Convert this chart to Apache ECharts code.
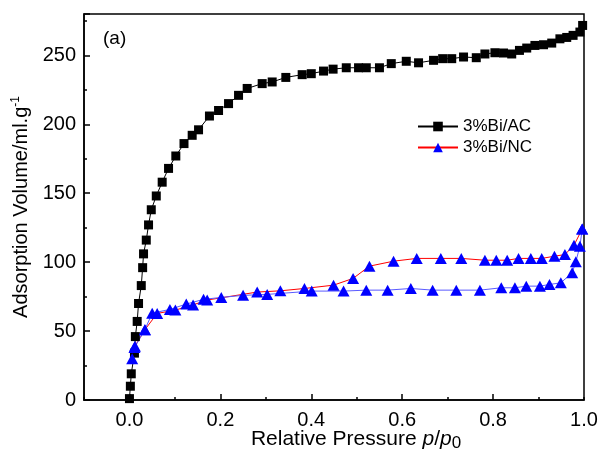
<!DOCTYPE html>
<html>
<head>
<meta charset="UTF-8">
<title>3%Bi isotherms</title>
<script src="https://cdn.jsdelivr.net/npm/echarts@6/dist/echarts.min.js"></script>
<style>
  html, body { margin: 0; padding: 0; background: #fff; }
  #main { width: 601px; height: 452px; }
</style>
</head>
<body>
<div id="main"></div>
<script>
// 3%Bi/AC isotherm
var acP = [0.000, 0.002, 0.004, 0.011, 0.013, 0.017, 0.020, 0.026, 0.029, 0.031, 0.037, 0.042, 0.048, 0.059, 0.072, 0.086,
  0.102, 0.120, 0.138, 0.152, 0.176, 0.196, 0.218, 0.240, 0.259, 0.292, 0.314, 0.344, 0.380, 0.400, 0.427, 0.448,
  0.477, 0.504, 0.521, 0.550, 0.576, 0.609, 0.636, 0.669, 0.689, 0.709, 0.735, 0.763, 0.782, 0.804, 0.823, 0.841,
  0.858, 0.874, 0.892, 0.911, 0.929, 0.947, 0.962, 0.976, 0.991, 0.997];
var acV = [1, 10, 19, 34, 46, 57, 70, 83, 96, 106, 116, 127, 138, 148, 158, 168,
  177, 186, 192, 196, 206, 210, 215, 221, 226, 229.5, 230.7, 234, 236, 236.7, 238.6, 240,
  241, 241, 241, 241, 244, 245.7, 244.6, 246.4, 247.6, 247.6, 248.8, 248.3, 251, 251.9, 251.7, 251,
  253.6, 255.3, 257.2, 257.7, 258.9, 262, 263, 264.5, 266.9, 271.7];

// 3%Bi/NC adsorption branch (blue line)
var ncAdsP = [0.006, 0.011, 0.034, 0.050, 0.089, 0.125, 0.163, 0.202, 0.250, 0.303, 0.401, 0.471, 0.521, 0.568, 0.619,
  0.667, 0.719, 0.771, 0.818, 0.848, 0.873, 0.903, 0.924, 0.949, 0.974, 0.982, 0.991, 0.996];
var ncAdsV = [30, 38, 51, 63, 65.7, 69.6, 73, 74.4, 75.9, 76.6, 79, 79, 79.7, 79.7, 80.9,
  79.7, 79.7, 79.7, 81.4, 81.4, 82.6, 82.6, 83.8, 85, 92.3, 100.2, 111.6, 124];

// 3%Bi/NC desorption branch (red line)
var ncDesP = [0.996, 0.978, 0.958, 0.935, 0.907, 0.883, 0.856, 0.831, 0.807, 0.782, 0.730, 0.685, 0.632, 0.581, 0.528,
  0.492, 0.449, 0.385, 0.332, 0.281, 0.171, 0.140, 0.101, 0.061, 0.034, 0.012];
var ncDesV = [124, 112.3, 105.5, 104.3, 102.7, 102.7, 102.7, 101.4, 101.4, 101.4, 102.7, 102.7, 102.7, 100.7, 97.1,
  88.2, 83.3, 80.9, 79.2, 78.3, 72.5, 69, 65.2, 62.8, 51, 39];

var yTicks = [0, 50, 100, 150, 200, 250];

function pairs(xs, ys) {
  var out = [];
  for (var i = 0; i < xs.length; i++) out.push([xs[i], ys[i]]);
  return out;
}

var font = "'Liberation Sans', Arial, sans-serif";
var myChart = echarts.init(document.getElementById('main'), null, { renderer: 'canvas' });

var option = {
  backgroundColor: '#fff',
  animation: false,
  textStyle: { fontFamily: font, color: '#000' },
  grid: {
    left: 84, right: 17, top: 14, bottom: 52,
    outerBoundsMode: 'none', containLabel: false,
    show: true, borderColor: '#000', borderWidth: 1.5, backgroundColor: 'transparent'
  },
  legend: {
    orient: 'vertical',
    left: 412, top: 113,
    itemWidth: 40, itemHeight: 12, itemGap: 4,
    data: ['3%Bi/AC', '3%Bi/NC'],
    textStyle: { fontFamily: font, fontSize: 17, color: '#000' }
  },
  graphic: [{
    type: 'text', left: 103, top: 29,
    style: { text: '(a)', font: '19px ' + font, fill: '#000' }
  }],
  xAxis: [{
    type: 'value', min: -0.1, max: 1.0, interval: 0.1,
    axisLine: { onZero: false, lineStyle: { color: '#000', width: 1.5 } },
    axisTick: { show: false },
    splitLine: { show: false },
    axisLabel: {
      fontSize: 20, margin: 10, color: '#000', fontFamily: font,
      formatter: function (v) {
        var k = Math.round(v * 10);
        return (k >= 0 && k % 2 === 0) ? (k / 10).toFixed(1) : '';
      }
    },
    name: '{n|Relative Pressure }{i|p}{n|/}{i|p}{b|0}',
    nameLocation: 'middle', nameGap: 27, nameMoveOverlap: false,
    nameTextStyle: {
      padding: [0, 0, 0, 44],
      rich: {
        n: { fontSize: 21, fontFamily: font, color: '#000', lineHeight: 22 },
        i: { fontSize: 21, fontFamily: font, fontStyle: 'italic', color: '#000', lineHeight: 22 },
        b: { fontSize: 17, fontFamily: font, color: '#000', verticalAlign: 'bottom', padding: [8, 0, 0, 0] }
      }
    }
  }, {
    type: 'value', min: -0.1, max: 1.0, interval: 0.2, position: 'bottom',
    axisLine: { show: false, onZero: false },
    axisLabel: { show: false },
    splitLine: { show: false },
    axisTick: { inside: true, length: 3, lineStyle: { color: '#000', width: 1.5 } },
    minorTick: { show: true, splitNumber: 2, length: 6, lineStyle: { color: '#000', width: 1.5 } }
  }],
  yAxis: {
    type: 'value', min: 0, max: 280, interval: 50,
    axisLine: { show: true, onZero: false, lineStyle: { color: '#000', width: 1.5 } },
    axisTick: { show: true, inside: true, length: 6, lineStyle: { color: '#000', width: 1.5 } },
    minorTick: { show: true, splitNumber: 2, length: 3, lineStyle: { color: '#000', width: 1.5 } },
    splitLine: { show: false },
    axisLabel: {
      fontSize: 20, margin: 8, color: '#000', fontFamily: font,
      formatter: function (v) { return yTicks.indexOf(v) >= 0 ? String(v) : ''; }
    },
    name: '{t|Adsorption Volume/ml.g}{s|-1}',
    nameLocation: 'middle', nameGap: 52, nameMoveOverlap: false,
    nameTextStyle: {
      rich: {
        t: { fontSize: 20, fontFamily: font, color: '#000', lineHeight: 22 },
        s: { fontSize: 12, fontFamily: font, color: '#000', verticalAlign: 'top', lineHeight: 12 }
      }
    }
  },
  series: [{
    name: '3%Bi/AC', type: 'line', xAxisIndex: 0,
    data: pairs(acP, acV),
    symbol: 'rect', symbolSize: 9,
    itemStyle: { color: '#000' },
    lineStyle: { color: '#000', width: 1 }
  }, {
    name: '3%Bi/NC', type: 'line', xAxisIndex: 0,
    data: pairs(ncDesP, ncDesV),
    symbol: 'triangle', symbolSize: [12, 11],
    itemStyle: { color: '#0000ff' },
    lineStyle: { color: '#ff0000', width: 1 }
  }, {
    name: '3%Bi/NC ads', type: 'line', xAxisIndex: 0,
    data: pairs(ncAdsP, ncAdsV),
    symbol: 'triangle', symbolSize: [12, 11],
    itemStyle: { color: '#0000ff' },
    lineStyle: { color: '#5a5aff', width: 1 }
  }]
};
myChart.setOption(option);
</script>
</body>
</html>
